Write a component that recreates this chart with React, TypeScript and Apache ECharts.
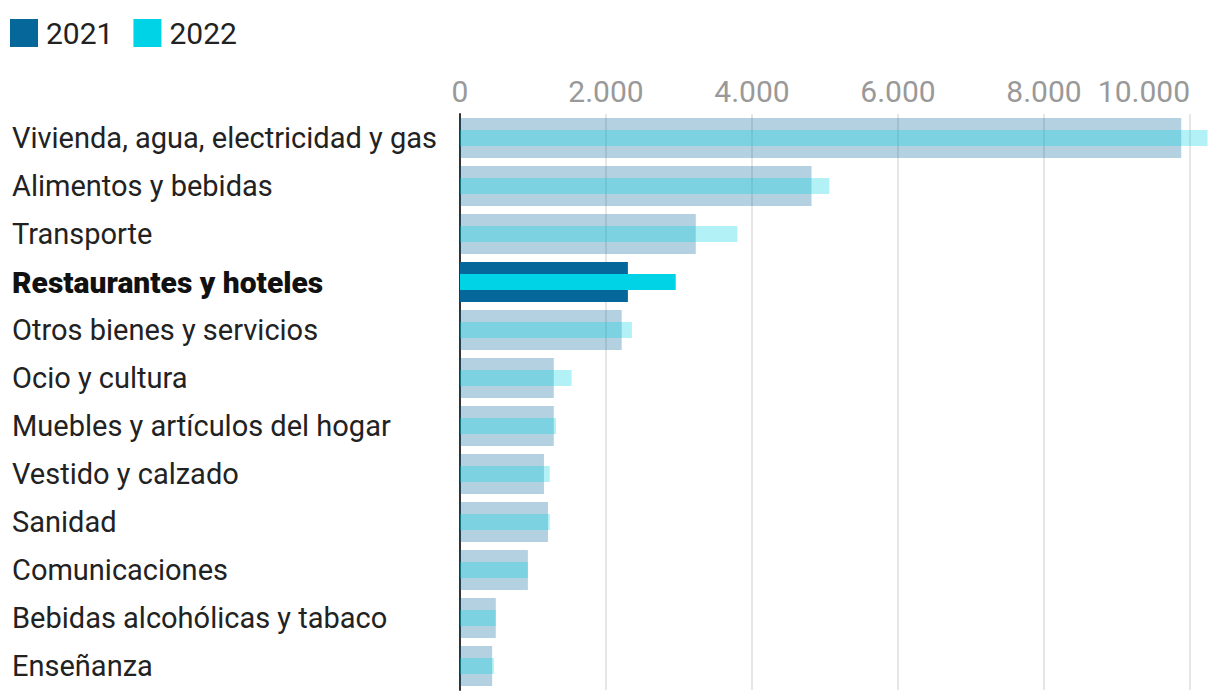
import React, { useEffect, useRef } from "react";
import * as echarts from "echarts";

const categories = [
  "Vivienda, agua, electricidad y gas",
  "Alimentos y bebidas",
  "Transporte",
  "Restaurantes y hoteles",
  "Otros bienes y servicios",
  "Ocio y cultura",
  "Muebles y artículos del hogar",
  "Vestido y calzado",
  "Sanidad",
  "Comunicaciones",
  "Bebidas alcohólicas y tabaco",
  "Enseñanza",
];
const values2021 = [9880, 4815, 3230, 2300, 2215, 1285, 1285, 1150, 1205, 930, 490, 440];
const values2022 = [10240, 5060, 3800, 2955, 2355, 1530, 1315, 1230, 1230, 930, 490, 465];
const highlighted = "Restaurantes y hoteles";
const seriesNames = ["2021", "2022"];
const colors = ["#05679a", "#00d3e5"];

const FONT = "Roboto, 'Noto Sans', sans-serif";

function fmt(v: number) {
  return String(v).replace(/\B(?=(\d{3})+(?!\d))/g, ".");
}

export default function App() {
  const ref = useRef<HTMLDivElement>(null);
  useEffect(() => {
    if (!ref.current) return;
    const chart = echarts.init(ref.current, null, { renderer: "svg" });
    const mk = (vals: number[], color: string) =>
      vals.map((v, i) => ({
        value: v,
        itemStyle:
          categories[i] === highlighted
            ? { color, opacity: 1 }
            : { color, opacity: 0.3 },
      }));
    const catAxisBase = {
      type: "category",
      inverse: true,
      data: categories,
      axisTick: { show: false },
      splitLine: { show: false },
    };
    chart.setOption({
      animation: false,
      textStyle: { fontFamily: FONT },
      legend: {
        left: 10,
        top: 18,
        padding: 0,
        itemWidth: 28,
        itemHeight: 28,
        itemGap: 20,
        icon: "rect",
        textStyle: { fontSize: 30, color: "#222", fontFamily: FONT, padding: [0, 0, 0, 3] },
        data: seriesNames,
        selectedMode: false,
      },
      grid: { left: 460, right: 30, top: 114, bottom: 6 },
      xAxis: {
        type: "value",
        position: "top",
        min: 0,
        max: 10000,
        interval: 2000,
        axisLine: { show: false },
        axisTick: { show: false },
        axisLabel: {
          color: "#999",
          fontSize: 30,
          margin: 8,
          fontFamily: FONT,
          alignMaxLabel: "right",
          formatter: (v: number) => fmt(v),
        },
        splitLine: { show: true, lineStyle: { color: "#e6e6e6", width: 2 } },
      },
      yAxis: [
        {
          ...catAxisBase,
          axisLine: { show: true, lineStyle: { color: "#333", width: 2 } },
          axisLabel: {
            align: "left",
            margin: 448,
            fontSize: 29,
            color: "#222",
            fontFamily: FONT,
            formatter: (v: string) => (v === highlighted ? `{b|${v}}` : `{n|${v}}`),
            rich: {
              n: { fontSize: 29, color: "#222", fontFamily: FONT },
              b: { fontSize: 30, color: "#111", fontWeight: 900, fontFamily: FONT },
            },
          },
        },
        {
          ...catAxisBase,
          show: false,
        },
      ],
      series: [
        {
          name: seriesNames[0],
          type: "bar",
          yAxisIndex: 0,
          barWidth: 40,
          clip: false,
          itemStyle: { color: colors[0] },
          data: mk(values2021, colors[0]),
          emphasis: { disabled: true },
        },
        {
          name: seriesNames[1],
          type: "bar",
          yAxisIndex: 1,
          barWidth: 16,
          clip: false,
          itemStyle: { color: colors[1] },
          data: mk(values2022, colors[1]),
          emphasis: { disabled: true },
        },
      ],
    });
    return () => chart.dispose();
  }, []);
  return (
    <div
      ref={ref}
      style={{ position: "fixed", left: 0, top: 0, width: 1220, height: 696, background: "#fff" }}
    />
  );
}
